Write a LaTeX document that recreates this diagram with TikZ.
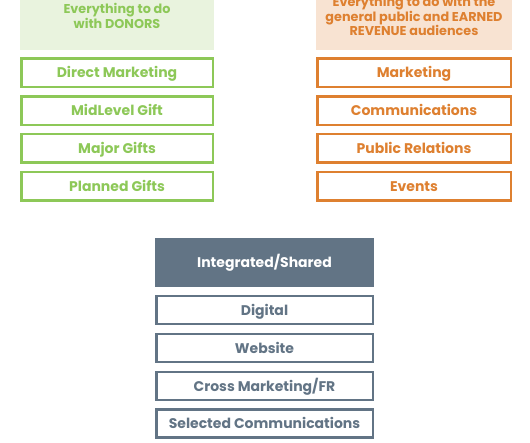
\documentclass[tikz,border=0pt]{standalone}
\usepackage{fontspec}
\setmainfont{Poppins}
\definecolor{donorgreen}{RGB}{141,200,88}
\definecolor{donorfill}{RGB}{233,243,222}
\definecolor{earnedorange}{RGB}{222,128,48}
\definecolor{earnedfill}{RGB}{248,227,210}
\definecolor{sharedslate}{RGB}{98,116,133}

\begin{document}
\begin{tikzpicture}[
  x=1pt,y=-1pt,
  every node/.style={font=\bfseries\fontsize{14}{15}\selectfont,inner sep=0pt,align=center},
  head node/.style={rectangle,minimum width=194pt,minimum height=68pt,font=\bfseries\fontsize{12.8}{14.3}\selectfont},
  item node/.style={rectangle,draw,line width=2.5pt,fill=white,minimum width=191.5pt,minimum height=28.5pt,text height=10pt,text depth=0pt},
  donor node/.style={item node,draw=donorgreen,text=donorgreen},
  earned node/.style={item node,draw=earnedorange,text=earnedorange,minimum width=193.5pt},
  shared node/.style={item node,draw=sharedslate,text=sharedslate,minimum width=216.5pt,minimum height=28pt},
]
\useasboundingbox (0,0) rectangle (530,442);
\clip (0,0) rectangle (530,442);
% donors column
\node[head node,fill=donorfill,text=donorgreen] (Donors) at (117,16) {Everything to do\\with DONORS};
\node[donor node] (DirectMkt) at (117,72.5) {Direct Marketing};
\node[donor node] (MidLevel) at (117,110.5) {MidLevel Gift};
\node[donor node] (MajorGifts) at (117,148) {Major Gifts};
\node[donor node] (PlannedGifts) at (117,186) {Planned Gifts};
% earned revenue column
\node[head node,fill=earnedfill,text=earnedorange,minimum width=196pt] (Earned) at (414,16) {Everything to do with the\\general public and EARNED\\REVENUE audiences};
\node[earned node] (Marketing) at (414,72.5) {Marketing};
\node[earned node] (Comms) at (414,110.5) {Communications};
\node[earned node] (PublicRel) at (414,148) {Public Relations};
\node[earned node] (Events) at (414,186) {Events};
% shared column
\node[rectangle,fill=sharedslate,text=white,minimum width=219pt,minimum height=49pt,text height=10pt,text depth=0pt] (Shared) at (264.5,262.5) {Integrated/Shared};
\node[shared node] (Digital) at (264.5,310) {Digital};
\node[shared node] (Website) at (264.5,348) {Website};
\node[shared node] (CrossMkt) at (264.5,386) {Cross Marketing/FR};
\node[shared node] (SelComms) at (264.5,423.5) {Selected Communications};
\end{tikzpicture}
\end{document}
